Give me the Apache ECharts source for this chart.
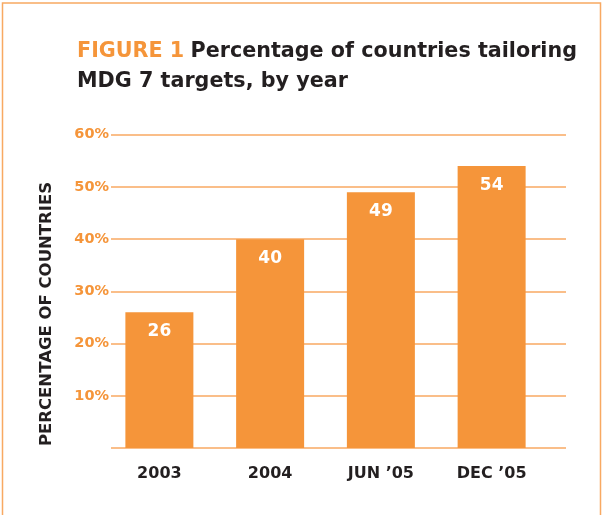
<!DOCTYPE html>
<html>
<head>
<meta charset="utf-8">
<script src="https://cdn.jsdelivr.net/npm/echarts@6/dist/echarts.min.js"></script>
<style>
  html, body { margin: 0; padding: 0; background: #fff; }
  #chart { width: 602px; height: 515px; }
</style>
</head>
<body>
<div id="chart"></div>
<script>
// Survey periods and share of countries (%) tailoring MDG 7 targets
const categories = ['2003', '2004', 'JUN \u201905', 'DEC \u201905'];
const values = [26, 40, 49, 54];
// Percentage scale
const yMin = 0;
const yMax = 60;
const yStep = 10;

const ORANGE = '#F5953A';
const GRID_ORANGE = '#F8A962';
const DARK = '#231F20';
const FONT = '"DejaVu Sans", "Open Sans", sans-serif';

const chart = echarts.init(document.getElementById('chart'), null, { renderer: 'canvas' });

const option = {
  backgroundColor: '#ffffff',
  animation: false,
  title: {
    left: 72,
    top: 32,
    text: '{o|FIGURE 1} {k|Percentage of countries tailoring}\n{k|MDG 7 targets, by year}',
    textStyle: {
      fontFamily: FONT,
      rich: {
        o: { color: ORANGE, fontSize: 20.7, fontWeight: 'bold', fontFamily: FONT, lineHeight: 30 },
        k: { color: DARK, fontSize: 20.7, fontWeight: 'bold', fontFamily: FONT, lineHeight: 30 }
      }
    }
  },
  graphic: [
    {
      type: 'rect',
      shape: { x: 2.5, y: 3, width: 598, height: 530 },
      style: { fill: 'none', stroke: GRID_ORANGE, lineWidth: 1.5 },
      silent: true
    },
    {
      type: 'text',
      x: 47,
      y: 314,
      rotation: Math.PI / 2,
      style: {
        text: 'PERCENTAGE OF COUNTRIES',
        fill: DARK,
        font: 'bold 16.5px ' + FONT,
        align: 'center',
        verticalAlign: 'middle'
      },
      silent: true
    }
  ],
  grid: [
    // bars
    { left: 104, right: 55, top: 134.7, bottom: 67, containLabel: false },
    // gridlines and percentage labels
    { left: 111, right: 36, top: 134.7, bottom: 67, containLabel: false }
  ],
  xAxis: [
    {
      type: 'category',
      gridIndex: 0,
      data: categories,
      axisLine: { show: false },
      axisTick: { show: false },
      axisLabel: {
        color: DARK,
        fontFamily: FONT,
        fontWeight: 'bold',
        fontSize: 16,
        margin: 18
      }
    },
    {
      type: 'value',
      gridIndex: 1,
      show: false
    }
  ],
  yAxis: [
    {
      type: 'value',
      gridIndex: 0,
      min: yMin,
      max: yMax,
      interval: yStep,
      show: false
    },
    {
      type: 'value',
      gridIndex: 1,
      min: yMin,
      max: yMax,
      interval: yStep,
      axisLine: { show: false },
      axisTick: { show: false },
      splitLine: { show: true, lineStyle: { color: GRID_ORANGE, width: 1.5 } },
      axisLabel: {
        color: ORANGE,
        fontFamily: FONT,
        fontWeight: 'bold',
        fontSize: 14.5,
        margin: 2,
        formatter: v => (v === 0 ? '' : v + '%')
      }
    }
  ],
  series: [
    {
      type: 'bar',
      xAxisIndex: 0,
      yAxisIndex: 0,
      data: values,
      barWidth: 68,
      z: 3,
      itemStyle: { color: ORANGE },
      label: {
        show: true,
        position: 'insideTop',
        distance: 11,
        color: '#ffffff',
        fontFamily: FONT,
        fontWeight: 'bold',
        fontSize: 17
      }
    }
  ]
};

chart.setOption(option);
</script>
</body>
</html>
